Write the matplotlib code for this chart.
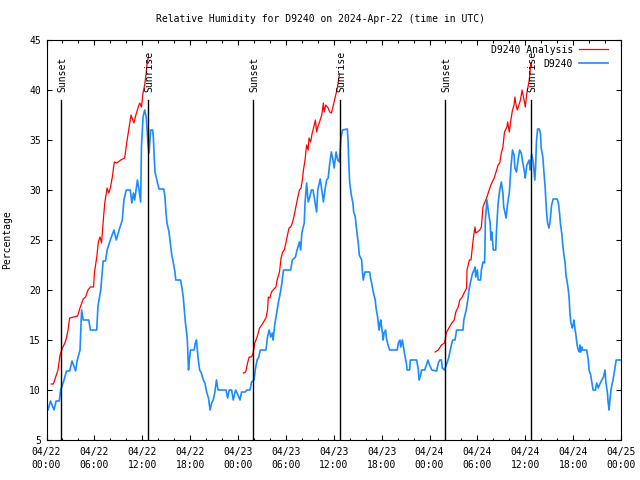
import matplotlib
matplotlib.use("Agg")
import matplotlib.pyplot as plt
from matplotlib.ticker import MultipleLocator
import numpy as np

# hours since 2024-04-22 00:00 UTC
obs_hours = [
    0.0, 0.19, 0.5, 0.94, 1.2, 1.6, 1.77, 2.2, 2.5, 2.9, 3.2, 3.65, 3.86, 4.2, 4.4, 4.6,
    5.3, 5.5, 6.3, 6.45, 6.8, 7.1, 7.4, 7.6, 8.0, 8.45, 8.75, 9.1, 9.5, 9.7, 10.0, 10.5,
    10.7, 10.9, 11.05, 11.4, 11.6, 11.8, 11.9, 12.1, 12.3, 12.5, 12.7, 12.85, 13.05, 13.3,
    13.4, 13.5, 13.6, 13.8, 14.1, 14.7, 14.85, 14.97, 15.1, 15.35, 15.55, 15.7, 15.9, 16.1,
    16.2, 16.8, 16.98, 17.15, 17.3, 17.4, 17.5, 17.65, 17.8, 17.9, 18.06, 18.5, 18.65, 18.8,
    18.9, 19.07, 19.2, 19.4, 19.65, 19.85, 20.07, 20.3, 20.5, 20.7, 20.9, 21.1, 21.3, 21.5,
    22.5, 22.7, 22.9, 23.2, 23.4, 23.7, 24.0, 24.25, 24.45, 24.9, 25.1, 25.5, 25.7, 26.0,
    26.2, 26.4, 26.6, 26.8, 27.5, 27.7, 27.9, 28.1, 28.3, 28.4, 28.6, 28.85, 29.05, 29.3,
    29.5, 29.7, 30.6, 30.8, 31.2, 31.4, 31.7, 31.85, 32.0, 32.3, 32.4, 32.6, 32.8, 33.0,
    33.2, 33.4, 33.6, 33.85, 34.0, 34.3, 34.5, 34.7, 34.9, 35.1, 35.3, 35.5, 35.7, 35.9,
    36.05, 36.3, 36.5, 36.7, 36.9, 37.1, 37.7, 37.8, 37.9, 38.0, 38.2, 38.4, 38.5, 38.7,
    38.8, 38.95, 39.1, 39.2, 39.5, 39.6, 39.7, 39.9, 40.5, 40.6, 40.75, 40.95, 41.2, 41.3,
    41.5, 41.6, 41.7, 41.8, 41.9, 42.0, 42.1, 42.2, 42.3, 42.5, 42.6, 42.8, 43.0, 43.95,
    44.1, 44.3, 44.4, 44.6, 44.7, 44.9, 45.1, 45.2, 45.5, 45.6, 46.4, 46.6, 46.7, 46.9,
    47.0, 47.4, 47.7, 47.8, 48.0, 48.3, 48.9, 49.1, 49.3, 49.5, 49.6, 49.9, 50.1, 50.4,
    50.6, 50.9, 51.2, 51.4, 52.2, 52.3, 52.6, 52.8, 52.95, 53.2, 53.4, 53.6, 53.7, 53.8,
    54.0, 54.1, 54.4, 54.5, 54.7, 54.9, 54.95, 55.0, 55.2, 55.4, 55.6, 55.7, 55.8, 56.0,
    56.3, 56.4, 56.6, 56.8, 57.0, 57.2, 57.3, 57.6, 57.8, 58.0, 58.2, 58.4, 58.6, 58.7,
    58.9, 59.1, 59.3, 59.5, 59.7, 59.9, 60.0, 60.2, 60.5, 60.6, 60.8, 61.0, 61.2, 61.3,
    61.4, 61.55, 61.75, 61.9, 62.0, 62.2, 62.3, 62.5, 62.6, 62.7, 62.8, 62.97, 63.1, 63.2,
    63.3, 63.5, 64.0, 64.15, 64.3, 64.4, 64.6, 64.7, 64.85, 65.0, 65.1, 65.27, 65.4, 65.5,
    65.6, 65.7, 65.9, 66.0, 66.1, 66.2, 66.35, 66.5, 66.65, 66.8, 66.85, 66.97, 67.1, 67.2,
    67.7, 67.9, 68.0, 68.2, 68.4, 68.5, 68.8, 68.95, 69.15, 69.4, 69.6, 69.8, 70.0, 70.1,
    70.3, 70.4, 70.5, 70.7, 70.8, 71.0, 71.2, 71.4, 71.9,
]
obs_rh = [
    8.0, 8.0, 8.9, 8.0, 8.9, 8.9, 10, 11, 11.9, 11.9, 12.9, 11.9, 13, 14, 18, 17,
    17, 16, 16, 18.4, 20, 22.9, 22.9, 24, 25, 26, 25, 26, 27, 29, 30, 30,
    28.7, 29.7, 29, 31, 30, 28.8, 34.3, 37.3, 38, 37.3, 34.8, 33.7, 36, 36,
    35.2, 33.2, 31.8, 31.1, 30.1, 30.1, 29.3, 27.8, 26.7, 25.8, 24.5, 23.5, 22.7, 21.8,
    21, 21, 20.2, 19.2, 17.8, 16.8, 16.2, 15, 12, 13, 14, 14, 14.7, 15,
    14, 12.7, 12, 11.7, 11, 10.7, 9.8, 9.2, 8, 8.7, 9, 9.8, 11, 10,
    10, 9.2, 10, 10, 9, 10, 9.5, 9, 9.8, 9.8, 10, 10, 10.8, 11,
    12.2, 13, 13.3, 14, 14, 15.3, 16, 15.3, 15.7, 15, 16.5, 17.7, 18.7, 19.7,
    20.7, 22, 22, 23, 23.3, 24, 24.8, 24, 25.7, 26.7, 28.7, 30.7, 28.8, 29.3,
    30, 30, 29, 27.8, 30, 31.1, 30, 28.8, 30, 31, 31.2, 32.7, 33.8, 33,
    32.2, 33.8, 33, 32.8, 35.2, 36, 36.1, 34.8, 32.3, 30.7, 29.5, 28.7, 27.8, 27.3,
    26.5, 25.5, 24.5, 23.5, 23, 21.7, 21, 21.8, 21.8, 21.2, 20.7, 19.8, 19, 18.2,
    17.3, 16.5, 16, 16.7, 17, 16.3, 15.7, 15, 15.7, 16, 15.2, 14.5, 14, 14,
    14.7, 15, 14.3, 15, 14.5, 13.5, 12.7, 12, 12, 13, 13, 12, 11, 11.5,
    12, 12, 12.7, 13, 12.5, 12, 11.9, 12.7, 13, 13, 12.2, 12, 12.5, 13.2,
    14, 15, 15, 16, 16, 17, 18, 19, 20, 21, 21.7, 22, 22.3, 21.3,
    22, 21, 21, 22, 22.8, 22.7, 24.2, 27, 29, 27.7, 26.7, 25, 25.8, 24,
    24, 26, 28.7, 30, 30.8, 29.7, 28.3, 27.2, 28.7, 29.7, 32.2, 34, 33.5, 32.2,
    31.8, 33, 34, 33.7, 32.7, 31.8, 31.2, 32.5, 33, 32, 33.6, 32.8, 31, 32.3,
    34.8, 36.1, 36.1, 35.7, 34.2, 33.3, 32.2, 30.2, 28.7, 27.5, 26.7, 26.2, 26.8, 27.7,
    28.5, 29.1, 29.1, 28.7, 27.7, 26.7, 25.5, 24.5, 23.5, 22.7, 21.5, 20.7, 20, 19.2,
    17.7, 16.8, 16.2, 16.5, 17, 16.3, 15.5, 14.5, 14, 13.8, 14.5, 13.8, 14.3, 14,
    14, 13, 12, 11.5, 10.5, 10, 10, 10.7, 10.2, 10.7, 11, 11.3, 12, 10.8,
    9.7, 8.7, 8, 9.7, 10.3, 11, 12, 13, 13,
]

# analysis series, one list per night (no analysis in between)
ana_hours_1 = [0.6, 0.86, 1.15, 1.44, 1.7, 2.0, 2.3, 2.5, 2.7, 2.9, 3.9, 4.2, 4.6, 4.9, 5.2,
               5.5, 5.9, 6.0, 6.3, 6.5, 6.7, 6.9, 7.1, 7.3, 7.6, 7.8, 8.0, 8.25, 8.5, 8.8,
               9.3, 9.8, 10.05, 10.3, 10.6, 10.95, 11.2, 11.5, 11.7, 11.9, 12.1, 12.3, 12.5,
               12.6, 12.75]
ana_rh_1 = [10.6, 10.6, 11.3, 12, 13.5, 14.2, 14.7, 15.2, 16, 17.2, 17.4, 18.2, 19.1, 19.3, 20,
            20.3, 20.3, 21.7, 23.3, 24.8, 25.3, 24.7, 26.8, 28.7, 30.2, 29.7, 30.2, 31.3, 32.8, 32.7,
            33, 33.2, 34.7, 36, 37.5, 36.7, 37.5, 38.3, 38.7, 38.3, 39.7, 40.5, 41.7,
            42.7, 43.2]
ana_hours_2 = [24.67, 24.96, 25.2, 25.4, 25.7, 25.9, 26.1, 26.4, 26.7, 26.97, 27.2, 27.5, 27.7,
               27.8, 28.0, 28.2, 28.4, 28.75, 28.9, 29.2, 29.4, 29.6, 29.8, 30.0, 30.2, 30.4,
               30.6, 30.85, 31.05, 31.3, 31.5, 31.7, 31.9, 32.1, 32.2, 32.4, 32.6, 32.8, 32.9,
               33.1, 33.3, 33.5, 33.7, 33.85, 34.0, 34.3, 34.5, 34.7, 34.8, 35.0, 35.3, 35.5,
               35.7, 35.9, 36.15, 36.4, 36.6, 36.7]
ana_rh_2 = [11.7, 11.8, 12.7, 13.3, 13.3, 13.7, 14.7, 15.3, 16.2, 16.5, 16.8, 17.2, 18,
            19.3, 19.2, 19.8, 20, 20.3, 21, 21.8, 23.2, 23.8, 24, 24.7, 25.5, 26.2,
            26.3, 26.8, 27.5, 28.5, 29.3, 30, 30.2, 31.2, 32, 33, 34.5, 34, 35.2,
            34.8, 35.7, 36.3, 37, 35.8, 36.3, 37, 37.5, 38.7, 37.8, 38.5, 38.2, 37.8,
            37.7, 38.3, 39.2, 40, 41, 41.5]
ana_hours_3 = [48.7, 49.1, 49.5, 49.9, 50.1, 50.5, 50.8, 51.1, 51.3, 51.6, 51.8, 52.1, 52.4,
               52.65, 52.7, 53.0, 53.2, 53.4, 53.6, 53.7, 53.8, 54.0, 54.3, 54.5, 54.7, 54.9,
               55.2, 55.4, 55.6, 55.8, 56.1, 56.3, 56.6, 56.8, 57.0, 57.2, 57.4, 57.7, 57.8,
               58.0, 58.2, 58.4, 58.6, 58.7, 58.8, 59.0, 59.2, 59.4, 59.6, 59.9, 60.0, 60.2,
               60.5, 60.6, 60.7, 60.8]
ana_rh_3 = [13.8, 14, 14.5, 14.7, 15.7, 16.3, 16.7, 17, 17.8, 18.3, 19, 19.3, 19.8,
            20.2, 22, 23, 23, 24.5, 25.8, 26.3, 25.7, 25.8, 26, 26.3, 28.3, 28.7,
            29.3, 29.8, 30.3, 30.7, 31.2, 31.7, 32.5, 32.7, 33.7, 34.3, 35.8, 36.3, 36.8,
            35.8, 37, 38, 38.5, 39.3, 38.7, 38, 38.5, 39, 40, 38.8, 38.3, 39.7,
            41, 41.8, 42.7, 42.3]

sun_hours = [1.85, 12.76, 25.9, 36.8, 49.97, 60.75]
sun_labels = ["Sunset", "Sunrise", "Sunset", "Sunrise", "Sunset", "Sunrise"]

tick_hours = list(range(0, 73, 6))
tick_labels = ["04/22\n00:00", "04/22\n06:00", "04/22\n12:00", "04/22\n18:00",
               "04/23\n00:00", "04/23\n06:00", "04/23\n12:00", "04/23\n18:00",
               "04/24\n00:00", "04/24\n06:00", "04/24\n12:00", "04/24\n18:00",
               "04/25\n00:00"]

plt.rcParams["font.family"] = "DejaVu Sans Mono"
plt.rcParams["font.size"] = 7

fig = plt.figure(figsize=(6.4, 4.8), dpi=100)
ax = fig.add_axes([46.5 / 640, 40 / 480, 574.5 / 640, 400 / 480])

red = "#ff0000"
blue = "#1a8cff"

ax.plot(ana_hours_1, ana_rh_1, color=red, lw=0.9, label="D9240 Analysis")
ax.plot(ana_hours_2, ana_rh_2, color=red, lw=0.9)
ax.plot(ana_hours_3, ana_rh_3, color=red, lw=0.9)
ax.plot(obs_hours, obs_rh, color=blue, lw=1.2, label="D9240")

for h, lab in zip(sun_hours, sun_labels):
    ax.plot([h, h], [5, 39], color="black", lw=1.0)
    ax.text(h + 0.1, 39.8, lab, rotation=90, ha="center", va="bottom", fontsize=7)

ax.set_xlim(0, 72)
ax.set_ylim(5, 45)
ax.set_xticks(tick_hours)
ax.set_xticklabels(tick_labels, linespacing=1.35)
ax.xaxis.set_minor_locator(MultipleLocator(2))
ax.set_yticks(np.arange(5, 46, 5))
ax.tick_params(which="both", direction="in", top=True, right=True, width=0.8)
ax.tick_params(which="major", length=3.6)
ax.tick_params(which="minor", length=1.8)
ax.tick_params(axis="x", pad=5)
ax.tick_params(axis="y", pad=4)
for s in ax.spines.values():
    s.set_linewidth(0.8)

ax.set_ylabel("Percentage")
ax.yaxis.set_label_coords(-0.06, 0.5)
fig.text(0.5, 1 - 19 / 480, "Relative Humidity for D9240 on 2024-Apr-22 (time in UTC)",
         ha="center", va="center", fontsize=7)

ax.legend(loc="upper right", bbox_to_anchor=(1 - 8 / 574.5, 1), frameon=False,
          markerfirst=False, handlelength=3.0, handletextpad=0.6, labelspacing=0.4,
          borderaxespad=0.2, borderpad=0.3)

fig.savefig("out.png", dpi=100)
